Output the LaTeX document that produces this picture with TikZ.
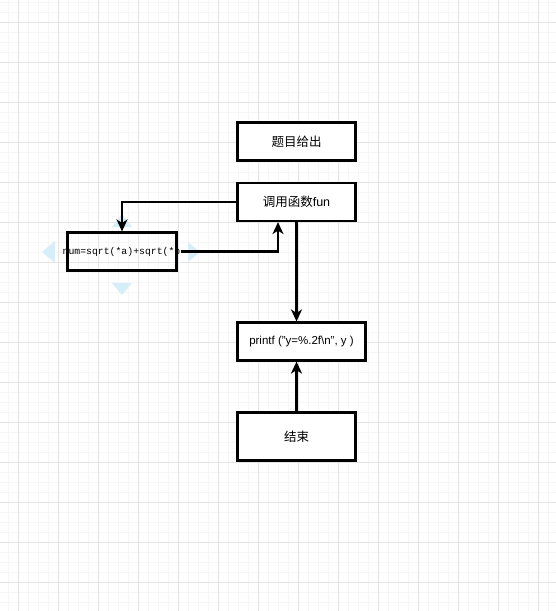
\documentclass[tikz,border=0pt]{standalone}
\usepackage{fontspec}
\usepackage{tikz}
\usetikzlibrary{arrows.meta}
\setmainfont{Liberation Sans}
\newfontfamily\cjk{Noto Sans CJK SC}
\newfontfamily\mono{Liberation Mono}
\definecolor{gridmajor}{RGB}{228,228,228}
\definecolor{gridminor}{RGB}{246,246,246}
\definecolor{hint}{RGB}{214,238,248}
\tikzset{
    box/.style={draw, line width=2.2pt, inner sep=0pt, minimum width=118pt, minimum height=38pt},
    arr/.style={line width=2.2pt, -{Stealth[length=12pt, width=11pt, inset=3.5pt]}},
}

\begin{document}
\begin{tikzpicture}[x=1pt, y=-1pt, font=\fontsize{12.5}{14}\selectfont]
    \useasboundingbox (0,0) rectangle (556,611);
    \fill[white] (0,0) rectangle (556,611);

    % background grid
    \foreach \x in {8,18,...,548} \draw[gridminor, line width=1pt] (\x,0) -- (\x,611);
    \foreach \y in {2,12,...,602} \draw[gridminor, line width=1pt] (0,\y) -- (556,\y);
    \foreach \x in {18,58,...,538} \draw[gridmajor, line width=1pt] (\x,0) -- (\x,611);
    \foreach \y in {22,62,...,582} \draw[gridmajor, line width=1pt] (0,\y) -- (556,\y);

    % hover hints round the selected box
    \fill[hint] (42,252) -- (55,241) -- (55,263) -- cycle;
    \fill[hint] (200,252) -- (188,242) -- (188,262) -- cycle;
    \fill[hint] (112,283) -- (132,283) -- (122,295) -- cycle;
    \fill[hint] (112,227) -- (132,227) -- (122,214) -- cycle;

    \node (start) [box, fill=white] at (296.5, 141.5) {\cjk 题目给出};
    \node (call) [box, fill=white] at (296.5, 202) {{\cjk 调用函数}fun};
    \node (calc) [box, minimum width=109pt] at (122, 251.5) {};
    \node (calctext) at (121.5, 252) {\mono\fontsize{9.8}{11}\selectfont num=sqrt(*a)+sqrt(*b};
    \node (print) [box, minimum width=128pt, fill=white] at (301.5, 341.5)
        {\fontsize{11.5}{13}\selectfont printf ("y=\%.2f\textbackslash n", y )};
    \node (stop) [box, minimum height=48pt, fill=white] at (296.5, 436.5) {\cjk 结束};

    \draw[arr] (call.west) -| (calc.north);
    \draw[arr] ([xshift=3pt]calc.east) -| ([xshift=-18.5pt]call.south);
    \draw[arr] (call.south) -- (call.south |- print.north);
    \draw[arr] (stop.north) -- (stop.north |- print.south);
\end{tikzpicture}
\end{document}
